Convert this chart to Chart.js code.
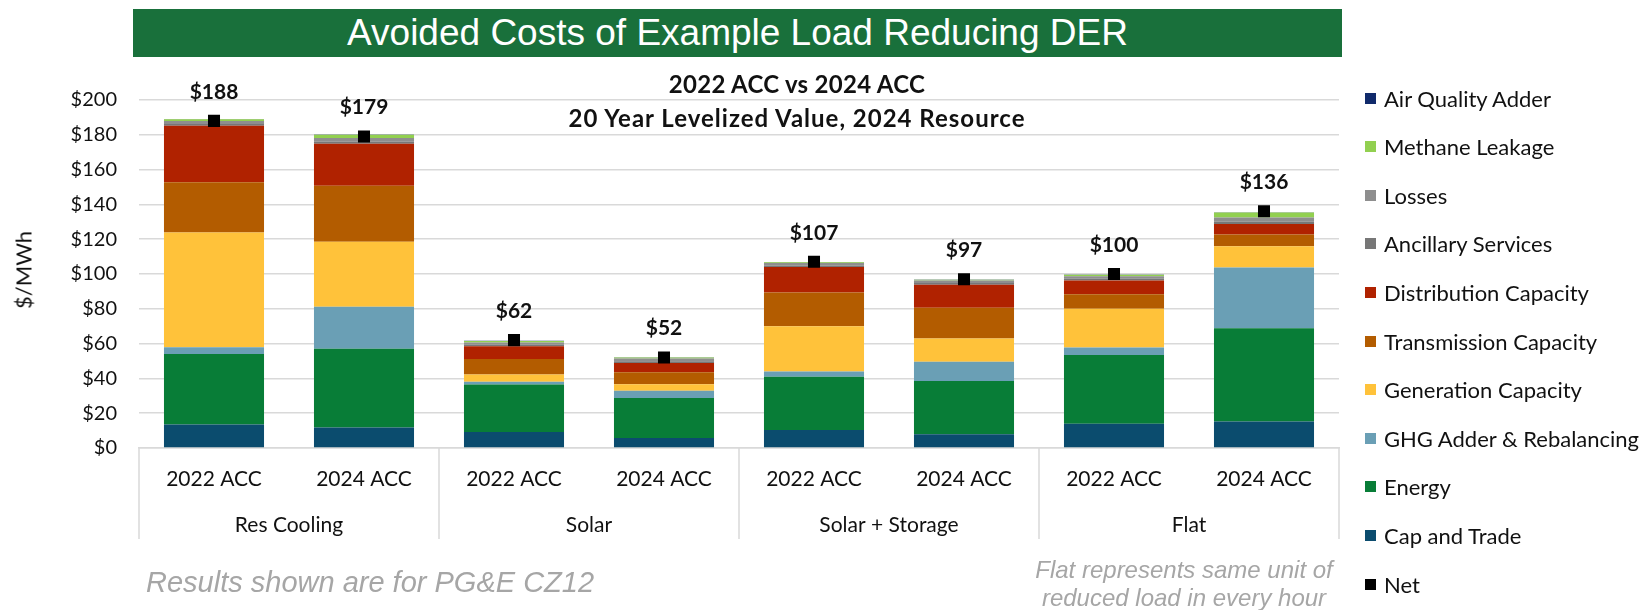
<!DOCTYPE html>
<html>
<head>
<meta charset="utf-8">
<script src="https://cdn.jsdelivr.net/npm/chart.js@4/dist/chart.umd.min.js"></script>
<style>
  body { margin: 0; width: 1640px; height: 610px; background: #fff; position: relative; overflow: hidden; font-family: Lato, sans-serif; }
  #wrap { position: absolute; left: 0; top: 0; width: 1640px; height: 610px; }
  .banner { position: absolute; left: 133px; top: 9px; width: 1209px; height: 48px; background: #19703b; color: #fff;
    font: 37px "Liberation Sans", Arial, sans-serif; line-height: 48px; text-align: center; }
  .ctitle { position: absolute; left: 497px; width: 600px; text-align: center; font: bold 24px Lato, sans-serif; color: #111; line-height: 28px; }
  .note { position: absolute; font-family: "Liberation Sans", Arial, sans-serif; font-style: italic; color: #a6a6a6; }
  .leg { position: absolute; left: 1365px; height: 26px; display: flex; align-items: center; font-size: 22px; color: #111; white-space: nowrap; }
  .leg i { display: inline-block; width: 11px; height: 11px; margin-right: 8px; }
  .ylab { position: absolute; left: -12px; top: 274px; width: 70px; text-align: center; transform: translate(0, -50%) rotate(-90deg);
    font: 22px Lato, sans-serif; color: #111; }
</style>
</head>
<body>
<div id="wrap"><canvas id="derChart" width="1640" height="610"></canvas></div>
<div class="banner">Avoided Costs of Example Load Reducing DER</div>
<div class="ctitle" style="top:70px; letter-spacing:0.3px;">2022 ACC vs 2024 ACC</div>
<div class="ctitle" style="top:104px; letter-spacing:1px;">20 Year Levelized Value, 2024 Resource</div>
<div class="ylab">$/MWh</div>
<div class="note" style="left:146px; top:566px; font-size:29px;">Results shown are for PG&amp;E CZ12</div>
<div class="note" style="left:1034px; width:300px; top:556px; font-size:24px; line-height:28px; text-align:center;">Flat represents same unit of<br>reduced load in every hour</div>
<div id="legend"></div>
<script>
// categories
const caseLabels = ['2022 ACC', '2024 ACC', '2022 ACC', '2024 ACC', '2022 ACC', '2024 ACC', '2022 ACC', '2024 ACC'];
const groupLabels = ['Res Cooling', 'Solar', 'Solar + Storage', 'Flat'];
const yTicks = [0, 20, 40, 60, 80, 100, 120, 140, 160, 180, 200];

// $/MWh components, stacked bottom to top
const capTrade   = [13.5, 11.8, 9.2, 5.8, 10.4, 7.9, 14.0, 15.2];
const energy     = [40.5, 45.3, 27.3, 23.0, 30.6, 30.6, 39.5, 53.6];
const ghgAdder   = [3.9, 24.1, 1.6, 4.1, 3.0, 11.1, 4.2, 35.0];
const genCap     = [66.0, 37.4, 4.2, 3.8, 26.0, 13.3, 22.3, 12.2];
const transCap   = [28.9, 32.1, 8.9, 6.8, 19.4, 17.7, 8.3, 6.7];
const distCap    = [32.4, 24.1, 7.3, 5.3, 14.6, 13.2, 7.9, 6.0];
const ancillary  = [1.0, 1.2, 0.8, 1.0, 0.9, 1.0, 1.0, 1.4];
const losses     = [1.8, 2.1, 1.3, 1.7, 1.4, 1.5, 1.5, 2.4];
const methane    = [1.0, 2.0, 0.9, 0.5, 0.5, 0.4, 0.9, 2.9];
const airQuality = [0.1, 0.1, 0.1, 0.1, 0.1, 0.1, 0.1, 0.1];
const net        = [188, 179, 62, 52, 107, 97, 100, 136];

const series = [
  { name: 'Cap and Trade', data: capTrade, color: '#0b4c6e' },
  { name: 'Energy', data: energy, color: '#087d37' },
  { name: 'GHG Adder & Rebalancing', data: ghgAdder, color: '#6a9fb5' },
  { name: 'Generation Capacity', data: genCap, color: '#ffc23a' },
  { name: 'Transmission Capacity', data: transCap, color: '#b35c00' },
  { name: 'Distribution Capacity', data: distCap, color: '#b02200' },
  { name: 'Ancillary Services', data: ancillary, color: '#777777' },
  { name: 'Losses', data: losses, color: '#8e8e8e' },
  { name: 'Methane Leakage', data: methane, color: '#92d050' },
  { name: 'Air Quality Adder', data: airQuality, color: '#102a6b' }
];

// legend (top item = top of stack)
const legendItems = series.slice().reverse().concat([{ name: 'Net', color: '#000' }]);
document.getElementById('legend').innerHTML = legendItems.map((s, i) =>
  `<div class="leg" style="top:${85 + i * 48.6}px;"><i style="background:${s.color}"></i>${s.name.replace('&', '&amp;')}</div>`
).join('');

const gridColor = '#d9d9d9';

// dividers + group names under the category axis
const groupAxisPlugin = {
  id: 'groupAxis',
  afterDraw(chart) {
    const { ctx, chartArea } = chart;
    const x = chart.scales.x;
    const bottom = chartArea.bottom + 91;
    const edges = [chartArea.left];
    for (let g = 1; g < groupLabels.length; g++) {
      edges.push((x.getPixelForValue(g * 2 - 1) + x.getPixelForValue(g * 2)) / 2);
    }
    edges.push(chartArea.right);
    ctx.save();
    ctx.strokeStyle = gridColor;
    ctx.lineWidth = 1.5;
    edges.forEach(px => {
      ctx.beginPath();
      ctx.moveTo(px, chartArea.bottom);
      ctx.lineTo(px, bottom);
      ctx.stroke();
    });
    ctx.fillStyle = '#111';
    ctx.font = '21px Lato';
    ctx.textAlign = 'center';
    ctx.textBaseline = 'middle';
    groupLabels.forEach((g, i) => {
      ctx.fillText(g, (edges[i] + edges[i + 1]) / 2, chartArea.bottom + 77);
    });
    ctx.restore();
  }
};

// "$188" style labels over the net markers
const netLabelPlugin = {
  id: 'netLabels',
  afterDatasetsDraw(chart) {
    const idx = chart.data.datasets.findIndex(d => d.label === 'Net');
    const meta = chart.getDatasetMeta(idx);
    const { ctx } = chart;
    ctx.save();
    ctx.fillStyle = '#111';
    ctx.font = 'bold 21px Lato';
    ctx.textAlign = 'center';
    ctx.textBaseline = 'middle';
    meta.data.forEach((pt, i) => {
      ctx.fillText('$' + net[i], pt.x, pt.y - 29);
    });
    ctx.restore();
  }
};

const datasets = series.map(s => ({
  type: 'bar',
  label: s.name,
  data: s.data,
  backgroundColor: s.color,
  borderWidth: 0,
  stack: 'der',
  barPercentage: 0.667,
  categoryPercentage: 1
}));
datasets.push({
  type: 'line',
  label: 'Net',
  data: net,
  showLine: false,
  stack: 'net',
  order: -1,
  pointStyle: 'rect',
  pointRadius: 8.5,
  pointBackgroundColor: '#000',
  pointBorderColor: '#000',
  pointBorderWidth: 0
});

new Chart(document.getElementById('derChart'), {
  type: 'bar',
  data: { labels: caseLabels, datasets },
  options: {
    responsive: false,
    animation: false,
    devicePixelRatio: 1,
    layout: { padding: { top: 100, left: 39, right: 301, bottom: 62 } },
    plugins: { legend: { display: false }, tooltip: { enabled: false } },
    scales: {
      x: {
        stacked: true,
        grid: { display: false, drawTicks: false },
        border: { display: true, color: gridColor, width: 1.5 },
        ticks: { color: '#111', font: { family: 'Lato', size: 21 }, padding: 19, maxRotation: 0 },
        afterFit(scale) { scale.height = 100; }
      },
      y: {
        stacked: true,
        min: 0,
        max: 200,
        afterBuildTicks(scale) { scale.ticks = yTicks.map(v => ({ value: v })); },
        grid: { color: gridColor, lineWidth: 1.5, drawTicks: false },
        border: { display: false },
        ticks: { color: '#111', font: { family: 'Lato', size: 20 }, padding: 22, callback: v => '$' + v },
        afterFit(scale) { scale.width = 100; }
      }
    }
  },
  plugins: [groupAxisPlugin, netLabelPlugin]
});
</script>
</body>
</html>
